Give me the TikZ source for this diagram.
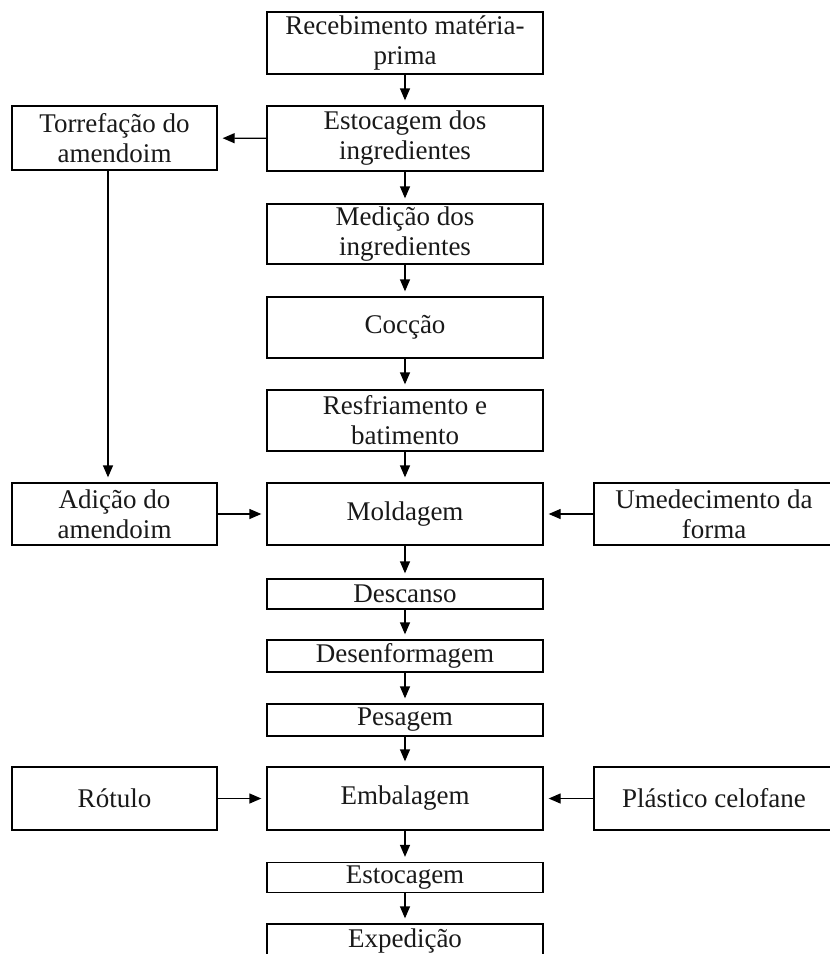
\documentclass[tikz,border=0pt]{standalone}
\usepackage{fontspec}
\setmainfont{Liberation Serif}
\usetikzlibrary{arrows.meta}
\begin{document}
\begin{tikzpicture}[x=1pt,y=-1pt,
  box/.style={draw, line width=1.3pt, inner sep=0pt, align=center,
    font=\fontsize{27}{30}\selectfont, text=black!90},
  cbox/.style={box, minimum width=276pt},
  sbox/.style={box, minimum width=205pt},
  rbox/.style={box, minimum width=240pt},
  arr/.style={line width=1.3pt, -{Triangle[length=12pt,width=10pt]}, shorten >=5pt}]
\useasboundingbox (0,0) rectangle (830,954);
% centre column
\node[cbox, minimum height=62pt] (rec) at (405,43) {Recebimento matéria-\\prima};
\node[cbox, minimum height=65pt] (est) at (405,138.5) {Estocagem dos\\ingredientes};
\node[cbox, minimum height=60pt] (med) at (405,234) {Medição dos\\ingredientes};
\node[cbox, minimum height=61pt] (coc) at (405,327.5) {Cocção};
\node[cbox, minimum height=61pt] (res) at (405,420.5) {Resfriamento e\\batimento};
\node[cbox, minimum height=62pt] (mol) at (405,514) {Moldagem};
\node[cbox, minimum height=30pt] (des) at (405,594) {Descanso};
\node[cbox, minimum height=32pt] (denf) at (405,656) {Desenformagem};
\node[cbox, minimum height=32pt] (pes) at (405,720) {Pesagem};
\node[cbox, minimum height=63pt] (emb) at (405,798.5) {Embalagem};
\node[cbox, minimum height=30pt] (esto) at (405,877.5) {Estocagem};
\node[cbox, minimum height=34pt] (exp) at (405,941) {Expedição};
% left column
\node[sbox, minimum height=64pt] (tor) at (114.5,138) {Torrefação do\\amendoim};
\node[sbox, minimum height=62pt] (adi) at (114.5,514) {Adição do\\amendoim};
\node[sbox, minimum height=63pt] (rot) at (114.5,798.5) {Rótulo};
% right column
\node[rbox, minimum height=62pt] (ume) at (714,514) {Umedecimento da\\forma};
\node[rbox, minimum height=63pt] (pla) at (714,798.5) {Plástico celofane};
% connectors
\draw[arr] (rec) -- (est);
\draw[arr] (est) -- (med);
\draw[arr] (med) -- (coc);
\draw[arr] (coc) -- (res);
\draw[arr] (res) -- (mol);
\draw[arr] (mol) -- (des);
\draw[arr] (des) -- (denf);
\draw[arr] (denf) -- (pes);
\draw[arr] (pes) -- (emb);
\draw[arr] (emb) -- (esto);
\draw[arr] (esto) -- (exp);
\draw[arr] (est) -- (tor);
\draw[arr] ([xshift=-6.5pt]tor.south) -- ([xshift=-6.5pt]adi.north);
\draw[arr] (adi) -- (mol);
\draw[arr] (ume) -- (mol);
\draw[arr] (rot) -- (emb);
\draw[arr] (pla) -- (emb);
\end{tikzpicture}
\end{document}
